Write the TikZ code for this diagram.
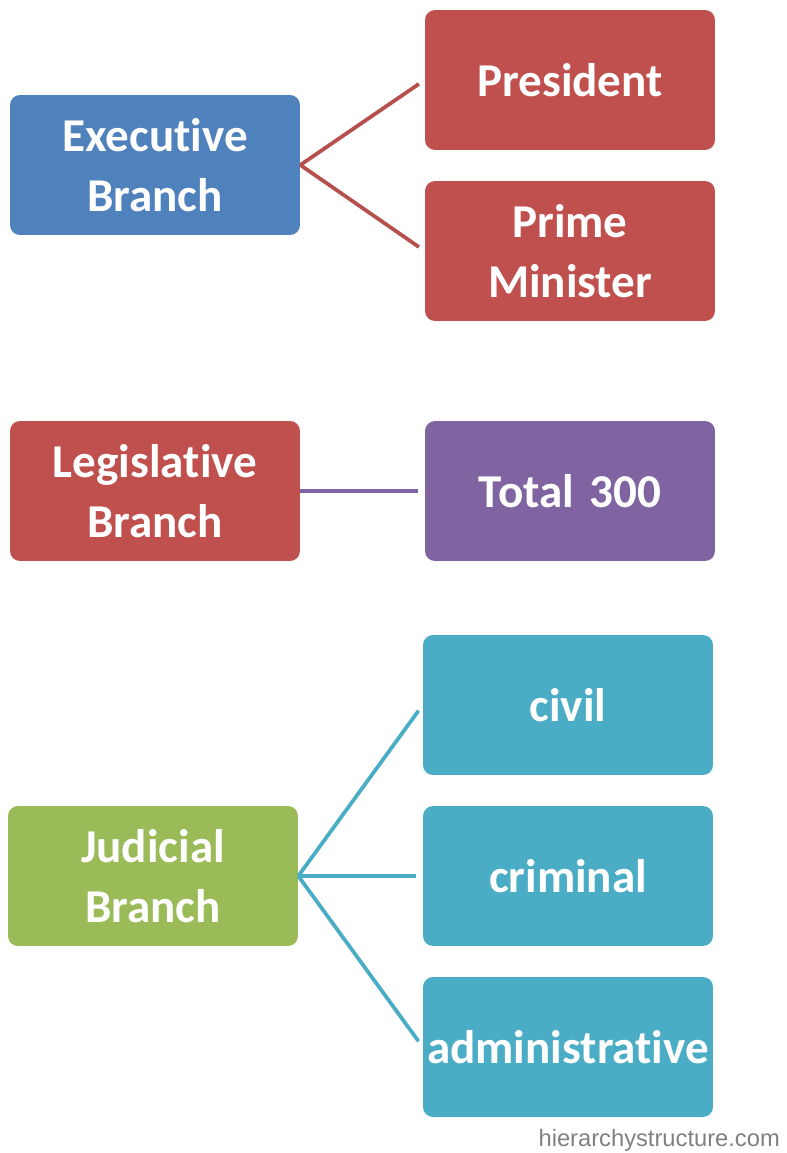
\documentclass[tikz,border=0pt]{standalone}
\usepackage{fontspec}
\setmainfont{Carlito}[RawFeature=-liga]
\newfontfamily\sitefont{Liberation Sans}
\definecolor{exblue}{HTML}{4F81BD}
\definecolor{brred}{HTML}{C0504D}
\definecolor{lnred}{HTML}{B5504D}
\definecolor{brpurple}{HTML}{8064A2}
\definecolor{brgreen}{HTML}{9BBB59}
\definecolor{brteal}{HTML}{4BACC6}
\begin{document}
\begin{tikzpicture}[x=0.02cm, y=-0.02cm,
  box/.style={rounded corners=0.2cm, minimum width=5.8cm, minimum height=2.8cm,
    inner sep=0pt, text width=5.7cm, align=center, text=white,
    font=\bfseries\fontsize{26.8}{34}\selectfont},
  link/.style={line width=0.075cm, shorten >=0.14cm}]
  \useasboundingbox (0,0) rectangle (787,1153);

  \node[box, fill=exblue] (exec) at (155,165) {Executive\\Branch};
  \node[box, fill=brred] (pres) at (570,80) {President};
  \node[box, fill=brred] (pm) at (570,251) {Prime\\Minister};

  \node[box, fill=brred] (leg) at (155,491) {Legislative\\Branch};
  \node[box, fill=brpurple] (total) at (570,491) {Total 300};

  \node[box, fill=brgreen] (jud) at (153,876) {Judicial\\Branch};
  \node[box, fill=brteal] (civil) at (568,705) {civil};
  \node[box, fill=brteal] (crim) at (568,876) {criminal};
  \node[box, fill=brteal] (admin) at (568,1047) {administrative};

  \draw[link, lnred] (exec.east) -- (pres.west);
  \draw[link, lnred] (exec.east) -- (pm.west);
  \draw[link, brpurple] (leg.east) -- (total.west);
  \draw[link, brteal] (jud.east) -- (civil.west);
  \draw[link, brteal] (jud.east) -- (crim.west);
  \draw[link, brteal] (jud.east) -- (admin.west);

  \node[anchor=east, text=gray, font=\sitefont\fontsize{13.5}{15}\selectfont] (site) at (786,1140) {hierarchystructure.com};
\end{tikzpicture}
\end{document}
